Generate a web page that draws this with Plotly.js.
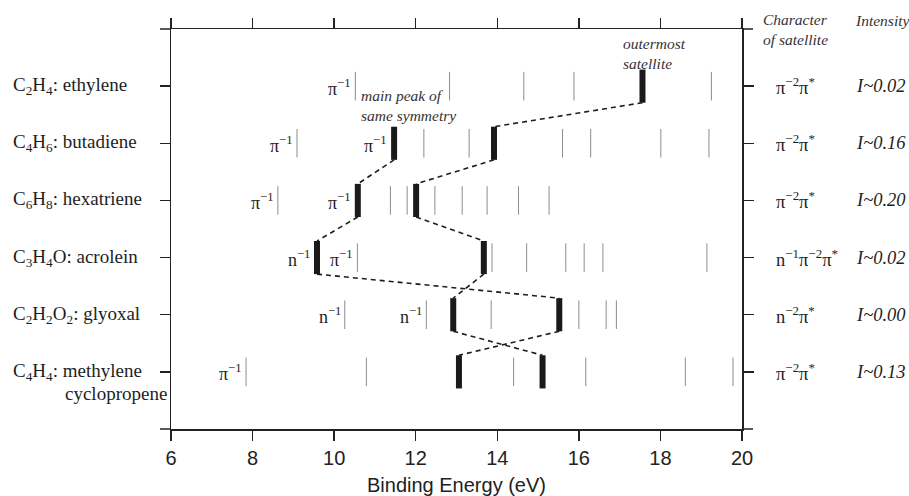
<!DOCTYPE html>
<html>
<head>
<meta charset="utf-8">
<script src="https://cdn.plot.ly/plotly-3.0.1.min.js"></script>
<style>html,body{margin:0;padding:0;background:#fff;}#chart{width:909px;height:496px;}</style>
</head>
<body>
<div id="chart"></div>
<script>
// ---------- data ----------
const molecules = [
  'C<sub>2</sub>H<sub>4</sub>: ethylene',
  'C<sub>4</sub>H<sub>6</sub>: butadiene',
  'C<sub>6</sub>H<sub>8</sub>: hexatriene',
  'C<sub>3</sub>H<sub>4</sub>O: acrolein',
  'C<sub>2</sub>H<sub>2</sub>O<sub>2</sub>: glyoxal',
  'C<sub>4</sub>H<sub>4</sub>: methylene'
];
const moleculeExtraLine = 'cyclopropene';
// thin (weak) ionization lines per molecule, eV
const thinPeaks = [
  [10.52, 12.83, 14.65, 15.88, 19.25],
  [9.09, 12.20, 13.31, 15.60, 16.29, 18.01, 19.19],
  [8.62, 11.38, 11.79, 12.47, 13.14, 13.75, 14.52, 15.27],
  [10.57, 13.87, 14.72, 15.68, 16.13, 16.59, 19.14],
  [10.26, 12.26, 13.85, 16.00, 16.67, 16.92],
  [7.84, 10.79, 14.40, 16.17, 18.61, 19.78]
];
// thick (main / satellite) lines per molecule, eV
const mainPeaks = [
  [17.56],
  [11.47, 13.92],
  [10.58, 12.01],
  [9.58, 13.67],
  [12.92, 15.52],
  [13.06, 15.11]
];
// correlation links: [fromRow, fromPeakIdx, toRow, toPeakIdx]
const links = [
  [0,0,1,1],[1,0,2,0],[1,1,2,1],[2,0,3,0],[2,1,3,1],
  [3,0,4,1],[3,1,4,0],[4,0,5,1],[4,1,5,0]
];
// ionization labels
const labelRows = [0, 1, 1, 2, 2, 3, 3, 4, 4, 5];
const labelEnergies = [10.52, 9.09, 11.47, 8.62, 10.58, 9.58, 10.57, 10.26, 12.26, 7.84];
const labelOrbitals = ['π', 'π', 'π', 'π', 'π', 'n', 'π', 'n', 'n', 'π'];
const labelOnThick = [false, false, true, false, true, true, false, false, false, false];
// right columns
const satCharacter = [
  'π<sup>−2</sup>π<sup>*</sup>',
  'π<sup>−2</sup>π<sup>*</sup>',
  'π<sup>−2</sup>π<sup>*</sup>',
  'n<sup>−1</sup>π<sup>−2</sup>π<sup>*</sup>',
  'n<sup>−2</sup>π<sup>*</sup>',
  'π<sup>−2</sup>π<sup>*</sup>'
];
const intensities = ['I~0.02', 'I~0.16', 'I~0.20', 'I~0.02', 'I~0.00', 'I~0.13'];
const xTicks = [6, 8, 10, 12, 14, 16, 18, 20];

// ---------- build ----------
const nRows = molecules.length;
const rowY = i => nRows - i;           // ethylene on top
const THIN_H = 0.25, THICK_H = 0.29;

const thinX = [], thinY = [];
thinPeaks.forEach((arr, i) => arr.forEach(e => {
  thinX.push(e, e, null); thinY.push(rowY(i) - THIN_H, rowY(i) + THIN_H, null);
}));
const thickX = [], thickY = [];
mainPeaks.forEach((arr, i) => arr.forEach(e => {
  thickX.push(e, e, null); thickY.push(rowY(i) - THICK_H, rowY(i) + THICK_H, null);
}));
const linkX = [], linkY = [];
links.forEach(([r1, a, r2, b]) => {
  linkX.push(mainPeaks[r1][a], mainPeaks[r2][b], null);
  linkY.push(rowY(r1) - THICK_H, rowY(r2) + THICK_H, null);
});

const traces = [
  {x: thinX, y: thinY, mode: 'lines', line: {color: '#8c8c8c', width: 1}, hoverinfo: 'skip', showlegend: false},
  {x: linkX, y: linkY, mode: 'lines', line: {color: '#1e1e1e', width: 1.6, dash: '5px,4px'}, hoverinfo: 'skip', showlegend: false},
  {x: thickX, y: thickY, mode: 'lines', line: {color: '#1a1a1a', width: 6}, hoverinfo: 'skip', showlegend: false}
];

const SERIF = 'Liberation Serif, Times New Roman, serif';
const SANS = 'Liberation Sans, Arial, sans-serif';
const annotations = [];
// molecule names on the left
molecules.forEach((m, i) => {
  annotations.push({xref: 'paper', yref: 'y', x: -0.281, y: rowY(i), xanchor: 'left', yanchor: 'middle',
    text: m, showarrow: false, font: {family: SERIF, size: 19, color: '#1e1e1e'}});
});
annotations.push({xref: 'paper', yref: 'y', x: -0.19, y: rowY(nRows - 1) - 0.38, xanchor: 'left', yanchor: 'middle',
  text: moleculeExtraLine, showarrow: false, font: {family: SERIF, size: 19, color: '#1e1e1e'}});
// ionization labels
labelEnergies.forEach((e, k) => {
  annotations.push({xref: 'x', yref: 'y', x: e, y: rowY(labelRows[k]), xanchor: 'right', yanchor: 'middle',
    xshift: labelOnThick[k] ? -5 : -2, yshift: -1,
    text: labelOrbitals[k] + '<sup>−1</sup>', showarrow: false, font: {family: SERIF, size: 18, color: '#1e1e1e'}});
});
// right columns
satCharacter.forEach((c, i) => {
  annotations.push({xref: 'paper', yref: 'y', x: 1.056, y: rowY(i), xanchor: 'left', yanchor: 'middle',
    text: c, showarrow: false, font: {family: SERIF, size: 18.5, color: '#1e1e1e'}});
});
intensities.forEach((t, i) => {
  annotations.push({xref: 'paper', yref: 'y', x: 1.196, y: rowY(i), xanchor: 'left', yanchor: 'middle',
    text: '<i>' + t + '</i>', showarrow: false, font: {family: SERIF, size: 18.5, color: '#1e1e1e'}});
});
// headers / notes
annotations.push({xref: 'paper', yref: 'paper', x: 1.034, y: 1.0, xanchor: 'left', yanchor: 'middle', align: 'left',
  text: '<i>Character<br>of satellite</i>', showarrow: false, font: {family: SERIF, size: 15.5, color: '#333'}});
annotations.push({xref: 'paper', yref: 'paper', x: 1.194, y: 1.022, xanchor: 'left', yanchor: 'middle',
  text: '<i>Intensity</i>', showarrow: false, font: {family: SERIF, size: 15.5, color: '#333'}});
annotations.push({xref: 'paper', yref: 'paper', x: 0.329, y: 0.809, xanchor: 'left', yanchor: 'middle', align: 'left',
  text: '<i>main peak of<br>same symmetry</i>', showarrow: false, font: {family: SERIF, size: 15.5, color: '#333'}});
annotations.push({xref: 'paper', yref: 'paper', x: 0.788, y: 0.938, xanchor: 'left', yanchor: 'middle', align: 'left',
  text: '<i>outermost<br>satellite</i>', showarrow: false, font: {family: SERIF, size: 15.5, color: '#333'}});

const ext = 0.0193;
const frameLine = {color: '#222', width: 1.5};
const shapes = [
  {type: 'line', xref: 'paper', yref: 'paper', x0: -ext, x1: 0, y0: 0, y1: 0, line: frameLine},
  {type: 'line', xref: 'paper', yref: 'paper', x0: -ext, x1: 0, y0: 1, y1: 1, line: frameLine},
  {type: 'line', xref: 'paper', yref: 'paper', x0: 1, x1: 1 + ext, y0: 0, y1: 0, line: frameLine},
  {type: 'line', xref: 'paper', yref: 'paper', x0: 1, x1: 1 + ext, y0: 1, y1: 1, line: frameLine}
];

const layout = {
  width: 909, height: 496,
  margin: {l: 171, r: 167, t: 29, b: 67},
  paper_bgcolor: '#fff', plot_bgcolor: '#fff',
  showlegend: false,
  xaxis: {
    range: [6, 20], tickvals: xTicks, ticktext: xTicks.map(String),
    ticks: 'outside', ticklen: 10, tickwidth: 1.5, tickcolor: '#222',
    showline: true, linecolor: '#222', linewidth: 1.5, mirror: 'ticks',
    showgrid: false, zeroline: false,
    tickfont: {family: SANS, size: 20, color: '#222'},
    title: {text: 'Binding Energy (eV)', font: {family: SANS, size: 20, color: '#222'}, standoff: 10}
  },
  yaxis: {
    range: [0, 7], tickvals: [1, 2, 3, 4, 5, 6], showticklabels: false,
    ticks: 'outside', ticklen: 10, tickwidth: 1.5, tickcolor: '#222',
    showline: true, linecolor: '#222', linewidth: 1.5, mirror: 'ticks',
    showgrid: false, zeroline: false
  },
  annotations: annotations,
  shapes: shapes
};

Plotly.newPlot('chart', traces, layout, {staticPlot: true, displayModeBar: false});
</script>
</body>
</html>
